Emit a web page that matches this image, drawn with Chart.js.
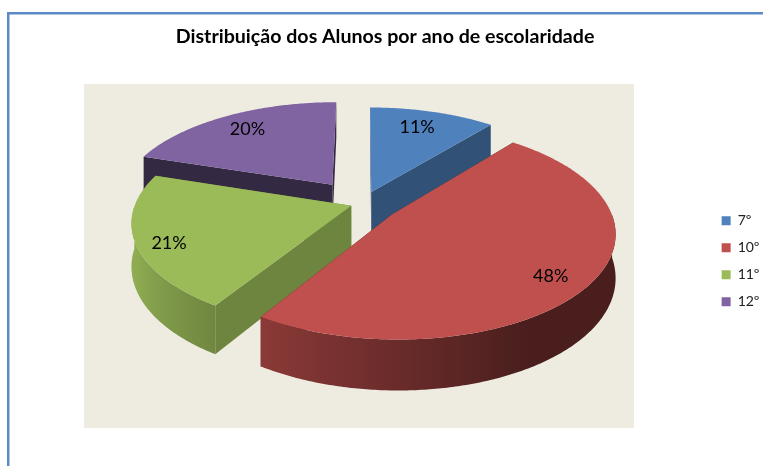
<!DOCTYPE html>
<html>
<head>
<meta charset="utf-8">
<style>
    html, body { margin: 0; background: #fff; }
    canvas { display: block; }
</style>
<script src="https://cdn.jsdelivr.net/npm/chart.js@4"></script>
</head>
<body>
<canvas id="pieChart" width="763" height="466"></canvas>
<script>
// Data
const categories = ['7º', '10º', '11º', '12º'];
const percentages = [11, 48, 21, 20];
const chartTitle = 'Distribuição dos Alunos por ano de escolaridade';

// Styles per slice
const sliceColors = ['#4F81BD', '#C0504D', '#9BBB59', '#8064A2'];
const explodeOffsets = [22, 29, 9, 41];
const radialWallShade = [0.63, 0.40, 0.71, 0.41];
const labelFractions = [0.72, 0.81, 0.85, 0.78];
const labelShiftY = [-5, 8, 7, -1];
const drawOrder = [3, 0, 2, 1];

// 3D view of the pie plane
const view = { x: 362, y: 204, a: 216, b: 101.5, p: 0.16, depth: 42 };
const plotBox = { left: 84, top: 84, right: 634, bottom: 428 };

function hexToRgb(hex) {
    return [1, 3, 5].map(i => parseInt(hex.substr(i, 2), 16));
}

function shade(hex, f) {
    const c = hexToRgb(hex).map(v => Math.round(v * f));
    return 'rgb(' + c.join(',') + ')';
}

// Pie plane -> screen, with a little perspective
function project(u, v, down) {
    const w = 1 - view.p * v;
    return {
        x: view.x + view.a * u / w,
        y: view.y + (view.b * v + (down ? view.depth : 0)) / w
    };
}

function outerWallShade(angle) {
    const deg = angle * 180 / Math.PI;
    return Math.min(0.92, Math.max(0.38, 0.38 + (deg - 60) * 0.0055));
}

function drawPoly(ctx, pts, fill) {
    ctx.beginPath();
    pts.forEach((p, i) => (i ? ctx.lineTo(p.x, p.y) : ctx.moveTo(p.x, p.y)));
    ctx.closePath();
    ctx.fillStyle = fill;
    ctx.fill();
}

function drawSlice(ctx, arc, index) {
    const { startAngle, endAngle, outerRadius } = arc.getProps(['startAngle', 'endAngle', 'outerRadius']);
    const color = sliceColors[index];
    const mid = (startAngle + endAngle) / 2;
    const e = explodeOffsets[index] / outerRadius;
    const pos = (angle, r, down) => project(
        r * Math.cos(angle) + e * Math.cos(mid),
        r * Math.sin(angle) + e * Math.sin(mid),
        down
    );
    const wallColor = shade(color, radialWallShade[index]);

    // radial walls
    [startAngle, endAngle].forEach(angle => {
        drawPoly(ctx, [pos(angle, 0, false), pos(angle, 1, false), pos(angle, 1, true), pos(angle, 0, true)], wallColor);
    });

    // curved outer wall, only the part that faces the viewer
    const steps = Math.ceil((endAngle - startAngle) * 90);
    const front = [];
    for (let i = 0; i <= steps; i++) {
        const a = startAngle + (endAngle - startAngle) * i / steps;
        if (Math.sin(a) >= 0) front.push(a);
    }
    if (front.length > 1) {
        const xs = front.map(a => pos(a, 1, false).x);
        const minX = Math.min(...xs);
        const maxX = Math.max(...xs);
        const grad = ctx.createLinearGradient(minX, 0, maxX, 0);
        front.forEach((a, i) => {
            if (i % 6 === 0) {
                grad.addColorStop((xs[i] - minX) / (maxX - minX), shade(color, outerWallShade(a)));
            }
        });
        const top = front.map(a => pos(a, 1, false));
        const bottom = front.slice().reverse().map(a => pos(a, 1, true));
        drawPoly(ctx, top.concat(bottom), grad);
    }

    // top face
    const face = [pos(startAngle, 0, false)];
    for (let i = 0; i <= steps; i++) {
        face.push(pos(startAngle + (endAngle - startAngle) * i / steps, 1, false));
    }
    drawPoly(ctx, face, color);
}

const pie3d = {
    id: 'pie3d',
    beforeDraw(chart) {
        const ctx = chart.ctx;
        ctx.save();
        // chart frame
        ctx.fillStyle = '#5B8AC6';
        ctx.fillRect(7, 12, 756, 2.5);
        ctx.fillRect(7, 12, 2.5, 454);
        // plot background
        ctx.fillStyle = '#EEECE1';
        ctx.fillRect(plotBox.left, plotBox.top, plotBox.right - plotBox.left, plotBox.bottom - plotBox.top);
        ctx.restore();
    },
    beforeDatasetDraw(chart, args) {
        const ctx = chart.ctx;
        const arcs = args.meta.data;
        ctx.save();
        drawOrder.forEach(i => drawSlice(ctx, arcs[i], i));

        // percentage labels
        ctx.fillStyle = '#000';
        ctx.font = '18px Lato, Carlito, sans-serif';
        ctx.textAlign = 'center';
        ctx.textBaseline = 'middle';
        arcs.forEach((arc, i) => {
            const { startAngle, endAngle, outerRadius } = arc.getProps(['startAngle', 'endAngle', 'outerRadius']);
            const mid = (startAngle + endAngle) / 2;
            const r = labelFractions[i] + explodeOffsets[i] / outerRadius;
            const p = project(r * Math.cos(mid), r * Math.sin(mid), false);
            ctx.fillText(percentages[i] + '%', p.x, p.y + labelShiftY[i]);
        });
        ctx.restore();
        return false;
    }
};

new Chart(document.getElementById('pieChart'), {
    type: 'pie',
    data: {
        labels: categories,
        datasets: [{
            data: percentages,
            backgroundColor: sliceColors,
            borderWidth: 0,
            offset: explodeOffsets
        }]
    },
    options: {
        responsive: false,
        animation: false,
        layout: { padding: { left: 61.5, right: -6.5, top: 25, bottom: 14 } },
        plugins: {
            title: {
                display: true,
                text: chartTitle,
                color: '#000',
                fullSize: false,
                font: { family: 'Lato, Carlito, sans-serif', size: 19.6, weight: 'bold' },
                padding: { top: 0, bottom: 22 }
            },
            legend: {
                position: 'right',
                fullSize: false,
                labels: {
                    boxWidth: 9,
                    boxHeight: 9,
                    padding: 13,
                    color: '#222',
                    font: { family: 'Lato, Carlito, sans-serif', size: 14 }
                }
            },
            tooltip: { enabled: false }
        }
    },
    plugins: [pie3d]
});
</script>
</body>
</html>
